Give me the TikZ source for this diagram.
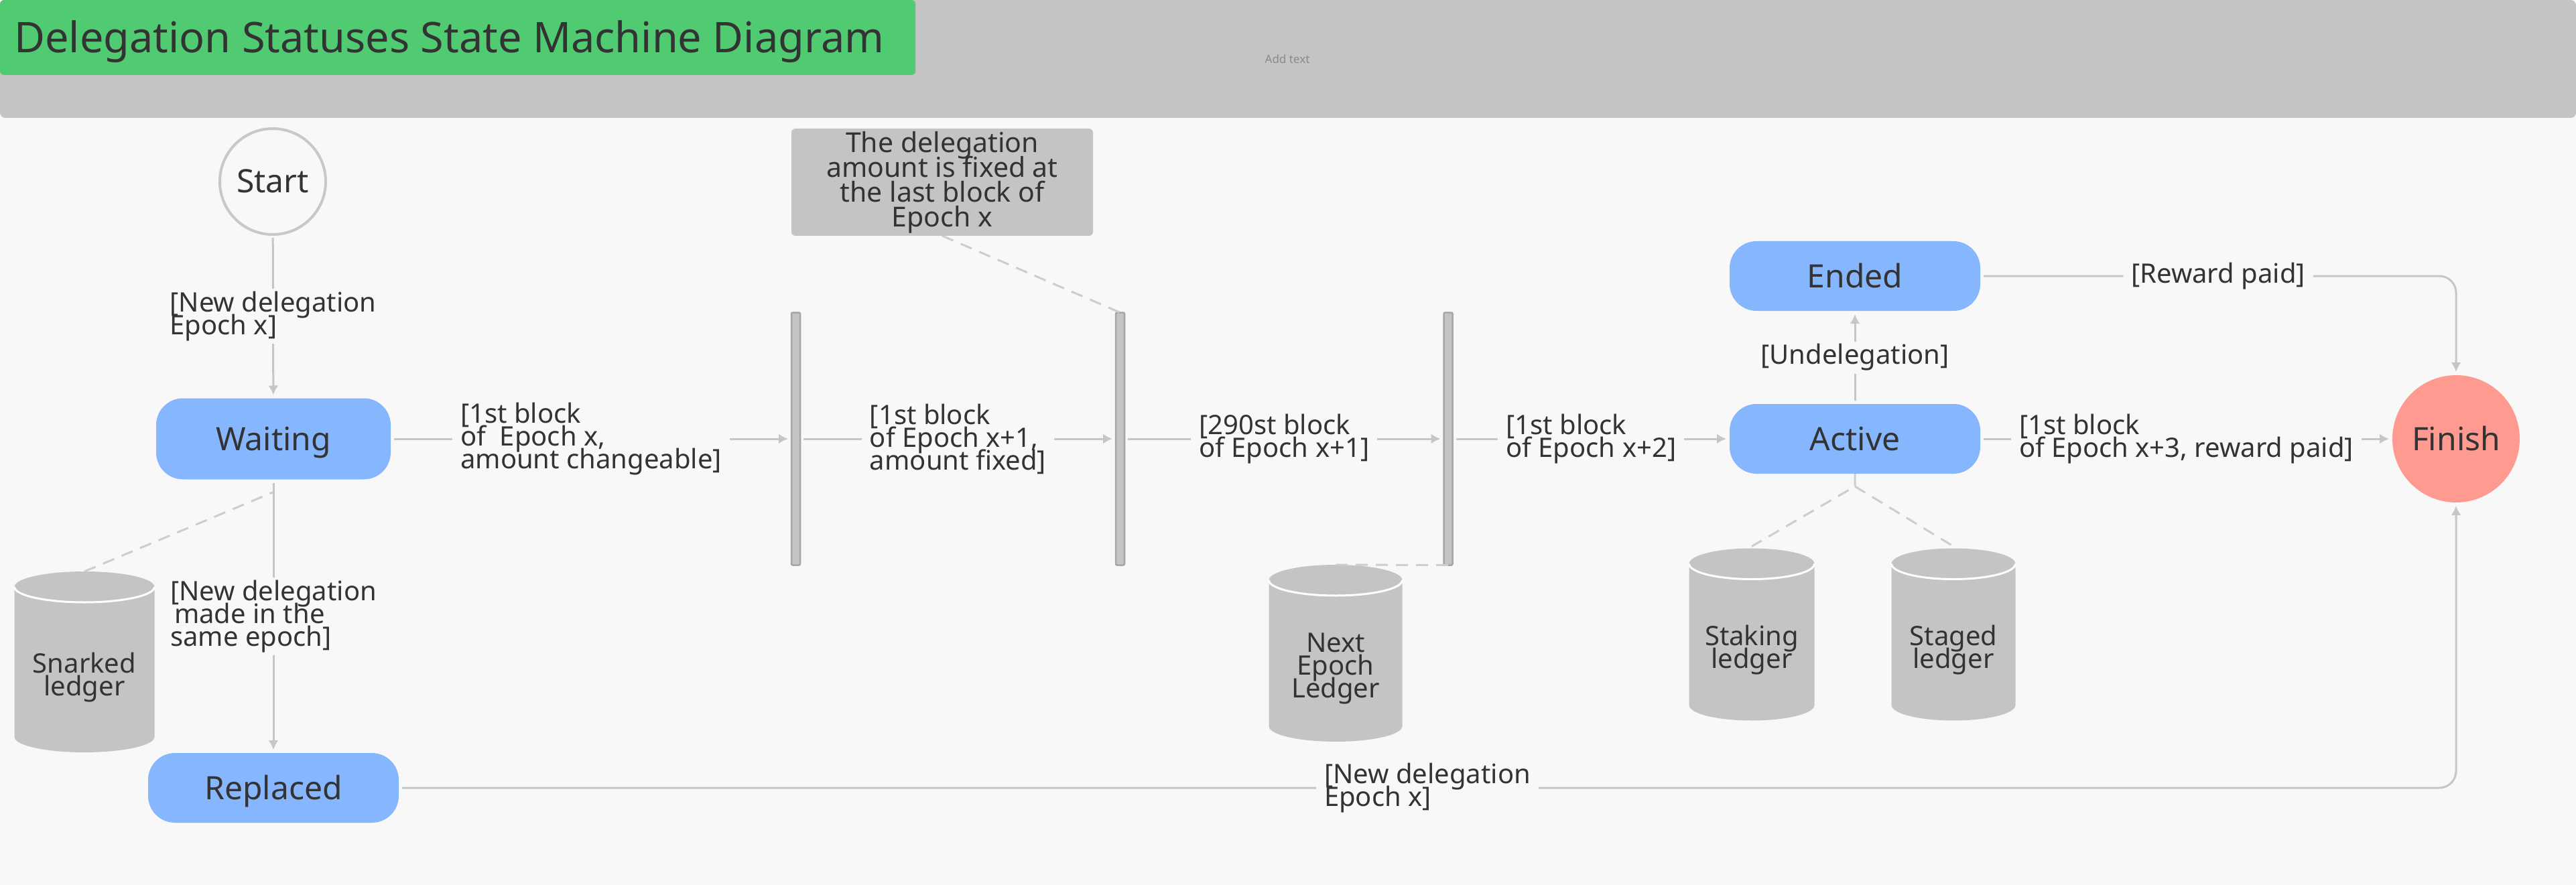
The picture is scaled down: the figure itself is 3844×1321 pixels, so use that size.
\documentclass[tikz,border=0pt]{standalone}
\usepackage{fontspec}
\setmainfont{Noto Sans}
\usetikzlibrary{arrows.meta,calc}
\definecolor{bgc}{HTML}{F8F8F8}
\definecolor{hdr}{HTML}{C4C4C4}
\definecolor{ttl}{HTML}{50CB72}
\definecolor{stateblue}{HTML}{86B6FE}
\definecolor{fin}{HTML}{FF9A91}
\definecolor{txt}{HTML}{333333}
\definecolor{lnc}{HTML}{C6C6C6}
\definecolor{dsh}{HTML}{CDCDCD}
\definecolor{barb}{HTML}{A6A6A6}
\definecolor{circb}{HTML}{C8C8C8}
\definecolor{addc}{HTML}{8A8A8A}
\pgfdeclarelayer{back}
\pgfdeclarelayer{cyl}
\pgfsetlayers{back,cyl,main}
\newcommand\drawcyl[2]{%
  \begin{pgfonlayer}{cyl}
  \fill[hdr] ($(#1.north west)+(0,23)$) -- ($(#1.south west)+(0,23)$)
     arc[start angle=180,end angle=360,x radius=#2,y radius=23]
     -- ($(#1.north east)+(0,23)$)
     arc[start angle=0,end angle=180,x radius=#2,y radius=23] -- cycle;
  \draw[white,line width=3pt] ($(#1.north west)+(0,23)$)
     arc[start angle=180,end angle=360,x radius=#2,y radius=23];
  \end{pgfonlayer}}
\lineskiplimit=-1000pt
\lineskip=0pt
\begin{document}
\begin{tikzpicture}[x=1pt,y=1pt,
  every node/.style={text=txt, outer sep=0pt},
  state/.style={fill=stateblue, rounded corners=40pt, minimum width=374pt,
    minimum height=104pt, inner sep=0pt, text height=34pt, text depth=0pt,
    font=\fontsize{48}{56}\selectfont},
  conn/.style={draw=lnc, line width=3pt, -{Latex[length=14pt,width=15pt]},
    shorten >=5pt, shorten <=5pt},
  lbl/.style={fill=bgc, align=left, font=\fontsize{40}{34}\selectfont,
    inner xsep=12pt, inner ysep=4pt},
  dashln/.style={draw=dsh, line width=3pt, dash pattern=on 18pt off 12pt},
  barbox/.style={fill=hdr, draw=barb, line width=2.5pt, rounded corners=2pt,
    minimum width=13pt, minimum height=377pt, inner sep=0pt},
  cylbox/.style={inner sep=0pt, align=center, font=\fontsize{40}{34}\selectfont}
]
\useasboundingbox (0,0) rectangle (3844,-1321);
\begin{pgfonlayer}{back}
  \fill[bgc] (0,0) rectangle (3844,-1321);
\end{pgfonlayer}

% header
\node[fill=hdr, rounded corners=8pt, minimum width=3844pt, minimum height=176pt,
  anchor=north west, inner sep=0pt] (header) at (0,0) {};
\node[fill=ttl, rounded corners=6pt, minimum width=1366pt, minimum height=112pt,
  anchor=north west, inner sep=0pt] (titlebox) at (0,0) {};
\node[anchor=base west, font=\fontsize{63}{70}\selectfont] (title) at (18,-79)
  {Delegation Statuses State Machine Diagram};
\node[font=\fontsize{17}{20}\selectfont, text=addc] (addtext) at (1921,-88) {Add text};

% states
\node[circle, draw=circb, line width=4pt, fill=bgc, minimum size=158pt,
  inner sep=0pt, text height=34pt, text depth=0pt,
  font=\fontsize{48}{56}\selectfont] (start) at (407,-271) {Start};
\node[state, minimum width=350pt, minimum height=121pt] (waiting) at (408,-655) {Waiting};
\node[state] (replaced) at (408,-1176) {Replaced};
\node[state] (active) at (2768,-655) {Active};
\node[state] (ended) at (2768,-412) {Ended};
\node[circle, fill=fin, minimum size=190pt, inner sep=0pt, text height=34pt, text depth=0pt,
  font=\fontsize{48}{56}\selectfont] (finish) at (3665,-655) {Finish};

% bars
\node[barbox] (bar1) at (1187.5,-655) {};
\node[barbox] (bar2) at (1671.5,-655) {};
\node[barbox] (bar3) at (2161,-655) {};

% note
\node[fill=hdr, rounded corners=6pt, minimum width=450pt, minimum height=160pt,
  inner sep=0pt, align=center, font=\fontsize{41}{37}\selectfont] (note) at (1406,-272)
  {The delegation\\amount is fixed at\\the last block of\\Epoch x};

% ledgers
\node[cylbox, minimum width=209pt, minimum height=224pt] (snarked) at (126,-1011) {Snarked\\ledger};
\drawcyl{snarked}{104.5}
\node[cylbox, minimum width=199pt, minimum height=218pt] (nextled) at (1993,-998) {Next\\Epoch\\Ledger};
\drawcyl{nextled}{99.5}
\node[cylbox, minimum width=187pt, minimum height=211pt] (staking) at (2614,-970) {Staking\\ledger};
\drawcyl{staking}{93.5}
\node[cylbox, minimum width=185pt, minimum height=211pt] (staged) at (2915,-970) {Staged\\ledger};
\drawcyl{staged}{92.5}
\coordinate (snarked-top) at ($(snarked.north)+(0,46)$);
\coordinate (nextled-top) at ($(nextled.north)+(0,46)$);
\coordinate (staking-top) at ($(staking.north)+(0,49)$);
\coordinate (staged-top) at ($(staged.north)+(0,49)$);
\coordinate (junc) at (2768,-726);
\coordinate (waitfoot) at ($(waiting.south)+(0,-19)$);

% dashed associations
\draw[dashln] (note.south) -- (bar2.north);
\draw[dashln] (snarked-top) -- (waitfoot);
\draw[dashln] (nextled-top) -- (bar3.south);
\draw[dashln] (active.south) -- (junc) -- (staking-top);
\draw[dashln] (junc) -- (staged-top);

% transitions
\draw[conn] (start) -- node[lbl] {[New delegation\\Epoch x]} (waiting);
\draw[conn] (waiting) -- node[lbl] {[1st block\\of~ Epoch x,\\amount changeable]} (bar1);
\draw[conn] (bar1) -- node[lbl] {[1st block\\of Epoch x+1,\\amount fixed]} (bar2);
\draw[conn] (bar2) -- node[lbl] {[290st block\\of Epoch x+1]} (bar3);
\draw[conn] (bar3) -- node[lbl] {[1st block\\of Epoch x+2]} (active);
\draw[conn] (active) -- node[lbl] {[Undelegation]} (ended);
\draw[conn] (active) -- node[lbl] {[1st block\\of Epoch x+3, reward paid]} (finish);
\draw[conn, rounded corners=25pt] (ended) -| node[lbl, pos=0.25] {[Reward paid]} (finish);
\draw[conn] (waiting) -- node[lbl] {[New delegation\\\hspace*{6pt}made in the\\same epoch]} (replaced);
\draw[conn, rounded corners=25pt] (replaced) -| node[lbl, pos=0.25] {[New delegation\\Epoch x]} (finish);
\end{tikzpicture}
\end{document}
